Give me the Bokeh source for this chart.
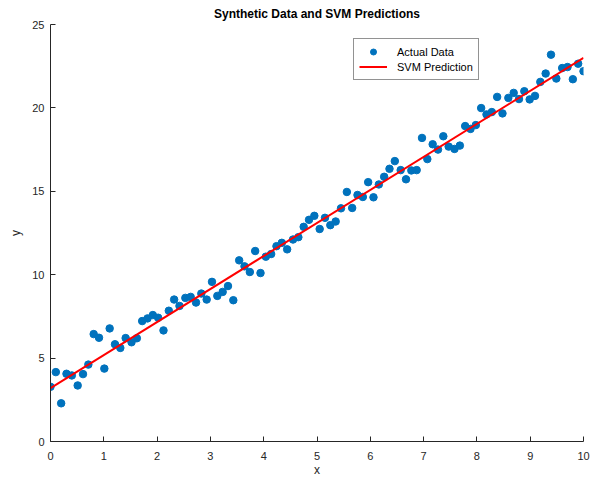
from bokeh.plotting import figure
from bokeh.models import Range1d, Legend, LegendItem, FixedTicker
from bokeh.embed import file_html
from bokeh.resources import INLINE

x_data = [0.00, 0.10, 0.20, 0.30, 0.40, 0.51, 0.61, 0.71, 0.81, 0.91,
          1.01, 1.11, 1.21, 1.31, 1.41, 1.52, 1.62, 1.72, 1.82, 1.92,
          2.02, 2.12, 2.22, 2.32, 2.42, 2.53, 2.63, 2.73, 2.83, 2.93,
          3.03, 3.13, 3.23, 3.33, 3.43, 3.54, 3.64, 3.74, 3.84, 3.94,
          4.04, 4.14, 4.24, 4.34, 4.44, 4.55, 4.65, 4.75, 4.85, 4.95,
          5.05, 5.15, 5.25, 5.35, 5.45, 5.56, 5.66, 5.76, 5.86, 5.96,
          6.06, 6.16, 6.26, 6.36, 6.46, 6.57, 6.67, 6.77, 6.87, 6.97,
          7.07, 7.17, 7.27, 7.37, 7.47, 7.58, 7.68, 7.78, 7.88, 7.98,
          8.08, 8.18, 8.28, 8.38, 8.48, 8.59, 8.69, 8.79, 8.89, 8.99,
          9.09, 9.19, 9.29, 9.39, 9.49, 9.60, 9.70, 9.80, 9.90, 10.00]

y_data = [3.28, 4.16, 2.29, 4.06, 3.96, 3.36, 4.04, 4.61, 6.44, 6.22,
          4.37, 6.78, 5.83, 5.61, 6.20, 5.95, 6.19, 7.22, 7.38, 7.58,
          7.42, 6.66, 7.84, 8.51, 8.13, 8.61, 8.67, 8.33, 8.87, 8.51,
          9.57, 8.73, 8.97, 9.32, 8.47, 10.86, 10.50, 10.16, 11.42, 10.10,
          11.08, 11.24, 11.71, 11.91, 11.52, 12.11, 12.25, 12.87, 13.29, 13.53,
          12.74, 13.41, 12.97, 13.19, 13.98, 14.96, 14.00, 14.78, 14.66, 15.55,
          14.64, 15.41, 15.87, 16.35, 16.81, 16.27, 15.72, 16.25, 16.27, 18.20,
          16.93, 17.82, 17.50, 18.30, 17.68, 17.54, 17.74, 18.91, 18.74, 18.97,
          19.99, 19.61, 19.75, 20.66, 19.67, 20.60, 20.90, 20.53, 21.00, 20.51,
          20.72, 21.56, 22.06, 23.19, 21.76, 22.39, 22.45, 21.72, 22.65, 22.20]

pred_x = [0.0, 10.0]
pred_y = [3.2, 23.0]

x_ticks = [0, 1, 2, 3, 4, 5, 6, 7, 8, 9, 10]
y_ticks = [0, 5, 10, 15, 20, 25]

FONT = "Liberation Sans"
AX = "#262626"

p = figure(width=596, height=479, output_backend="svg", toolbar_location=None,
           x_range=Range1d(0, 10), y_range=Range1d(0, 25),
           min_border_left=50, min_border_right=13, min_border_top=24, min_border_bottom=36)
p.outline_line_color = None
p.background_fill_color = "white"
p.border_fill_color = "white"
p.grid.visible = False

p.title.text = "Synthetic Data and SVM Predictions"
p.title.align = "center"
p.title.text_font = FONT
p.title.text_font_size = "12px"
p.title.text_font_style = "bold"
p.title.text_color = "black"
p.title.standoff = 7

for ax, lab, ticks in ((p.xaxis[0], "x", x_ticks), (p.yaxis[0], "y", y_ticks)):
    ax.axis_label = lab
    ax.ticker = FixedTicker(ticks=ticks)
    ax.axis_label_text_font = FONT
    ax.axis_label_text_font_size = "12px"
    ax.axis_label_text_font_style = "normal"
    ax.axis_label_text_color = AX
    ax.major_label_text_font = FONT
    ax.major_label_text_font_size = "11px"
    ax.major_label_text_color = AX
    ax.axis_line_color = AX
    ax.major_tick_line_color = AX
    ax.major_tick_in = 5
    ax.major_tick_out = 0
    ax.minor_tick_line_color = None

p.xaxis[0].major_label_standoff = 10
p.xaxis[0].axis_label_standoff = 0
p.yaxis[0].major_label_standoff = 6
p.yaxis[0].axis_label_standoff = 6

r_pts = p.scatter(x_data, y_data, size=7.5, marker="circle",
                  fill_color="#0072BD", line_color="#0072BD")
r_line = p.line(pred_x, pred_y, line_color="#FF0000", line_width=2)

legend = Legend(items=[LegendItem(label="Actual Data", renderers=[r_pts]),
                       LegendItem(label="SVM Prediction", renderers=[r_line])],
                location=(303, 361))
legend.label_text_font = FONT
legend.label_text_font_size = "11px"
legend.label_text_color = "black"
legend.border_line_color = "#262626"
legend.border_line_width = 1
legend.background_fill_alpha = 1.0
legend.padding = 5
legend.spacing = 0
legend.margin = 0
legend.glyph_width = 28
legend.glyph_height = 15
legend.label_height = 15
legend.label_standoff = 10
p.add_layout(legend)

open("out.html", "w").write(file_html(p, INLINE))
